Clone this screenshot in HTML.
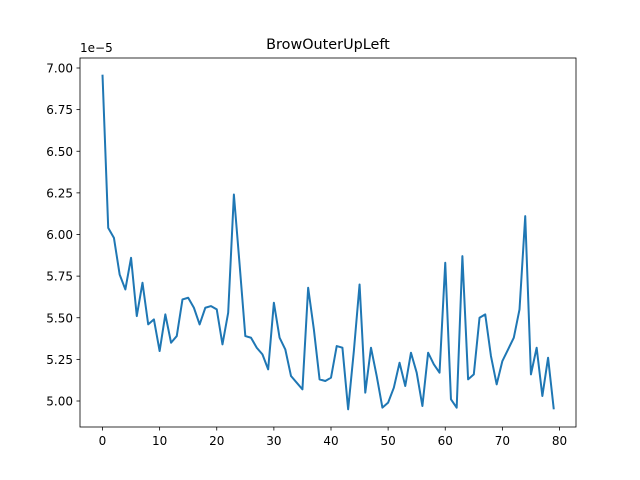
<!DOCTYPE html>
<html><head><meta charset="utf-8"><style>
body{margin:0;background:#fff;}
svg{display:block;font-family:"DejaVu Sans","Liberation Sans",sans-serif;}
</style></head><body>
<svg id="chart" width="640" height="480">
<rect width="640" height="480" fill="#fff"/>
<text x="328" y="49" text-anchor="middle" font-size="14.4">BrowOuterUpLeft</text>
<text x="80" y="52" font-size="12">1e−5</text>
<g id="ticks"></g>
<polyline id="line" fill="none" stroke="#1f77b4" stroke-width="2" stroke-linejoin="round"/>
<rect x="80" y="58" width="496" height="369" fill="none" stroke="#000" stroke-width="0.8"/>
</svg>
<script>
const values = [6.96,6.04,5.98,5.76,5.67,5.86,5.51,5.71,5.46,5.49,5.30,5.52,5.35,5.39,5.61,5.62,5.56,5.46,5.56,5.57,5.55,5.34,5.53,6.24,5.82,5.39,5.38,5.32,5.28,5.19,5.59,5.38,5.31,5.15,5.11,5.07,5.68,5.43,5.13,5.12,5.14,5.33,5.32,4.95,5.30,5.70,5.05,5.32,5.15,4.96,4.99,5.08,5.23,5.09,5.29,5.17,4.97,5.29,5.22,5.17,5.83,5.01,4.96,5.87,5.13,5.16,5.50,5.52,5.27,5.10,5.24,5.31,5.38,5.55,6.11,5.16,5.32,5.03,5.26,4.95];
const xTicks = [0,10,20,30,40,50,60,70,80];
const yTicks = [5.00,5.25,5.50,5.75,6.00,6.25,6.50,6.75,7.00];
const xs = v => 102.5 + v*5.7125;
const ys = v => 401 - (v-5)*166.5;
const NS="http://www.w3.org/2000/svg";
const g=document.getElementById('ticks');
xTicks.forEach(t=>{
  const l=document.createElementNS(NS,'line');
  l.setAttribute('x1',xs(t));l.setAttribute('x2',xs(t));l.setAttribute('y1',427);l.setAttribute('y2',430.5);l.setAttribute('stroke','#000');l.setAttribute('stroke-width','0.8');
  
  
  g.appendChild(l);
  const tx=document.createElementNS(NS,'text');
  tx.setAttribute('x',xs(t));tx.setAttribute('y',445);tx.setAttribute('text-anchor','middle');tx.setAttribute('font-size','12');
  tx.textContent=t;
  
  
  g.appendChild(tx);
});
yTicks.forEach(t=>{
  const l=document.createElementNS(NS,'line');
  l.setAttribute('x1',76.5);l.setAttribute('x2',80);l.setAttribute('y1',ys(t));l.setAttribute('y2',ys(t));l.setAttribute('stroke','#000');l.setAttribute('stroke-width','0.8');
  
  
  g.appendChild(l);
  const tx=document.createElementNS(NS,'text');
  tx.setAttribute('x',73);tx.setAttribute('y',ys(t)+4.5);tx.setAttribute('text-anchor','end');tx.setAttribute('font-size','12');
  tx.textContent=t.toFixed(2);
  
  
  g.appendChild(tx);
});
document.getElementById('line').setAttribute('points',values.map((v,i)=>xs(i)+','+ys(v)).join(' '));
</script>
</body></html>
